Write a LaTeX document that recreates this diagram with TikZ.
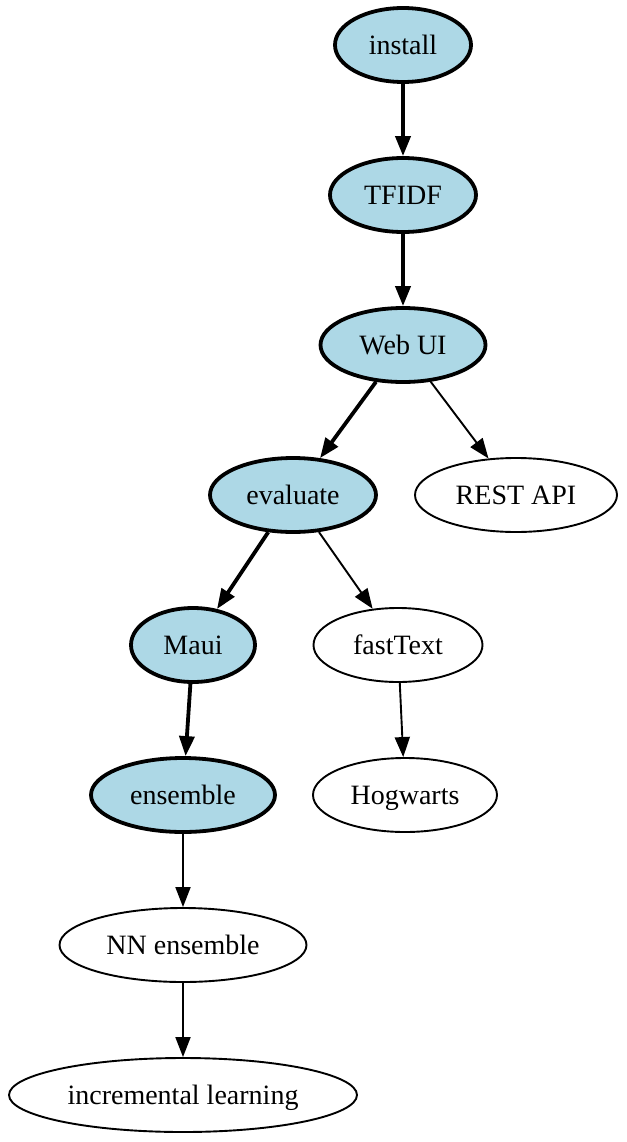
\documentclass[tikz,border=0pt]{standalone}
\usepackage{fontspec}
\setmainfont{Liberation Serif}
\usetikzlibrary{shapes.geometric,arrows.meta}
\definecolor{lblue}{HTML}{ADD8E6}
\tikzset{
  base/.style={ellipse,draw=black,inner sep=0pt,minimum height=74pt,text height=21pt,text depth=2pt,font=\fontsize{28}{34}\selectfont},
  hot/.style={base,fill=lblue,line width=3.8pt},
  cold/.style={base,fill=white,line width=1.9pt},
  hotedge/.style={line width=3.8pt,-{Triangle[length=20pt,width=15pt]}},
  coldedge/.style={line width=1.9pt,-{Triangle[length=20pt,width=15pt]}}
}
\begin{document}
\begin{tikzpicture}[x=1pt,y=-1pt]
\useasboundingbox (0,0) rectangle (626,1142);
\node[hot,minimum width=136pt] (install) at (403,45) {install};
\node[hot,minimum width=146pt] (tfidf) at (403,195) {TFIDF};
\node[hot,minimum width=165pt] (webui) at (403,345) {Web UI};
\node[hot,minimum width=166pt] (evaluate) at (293,495) {evaluate};
\node[cold,minimum width=202pt] (rest) at (516,495) {REST API};
\node[hot,minimum width=124pt] (maui) at (193,645) {Maui};
\node[cold,minimum width=169pt] (fasttext) at (398,645) {fastText};
\node[hot,minimum width=184pt] (ensemble) at (183,795) {ensemble};
\node[cold,minimum width=184pt] (hogwarts) at (405,795) {Hogwarts};
\node[cold,minimum width=247pt] (nn) at (183,945) {NN ensemble};
\node[cold,minimum width=348pt] (incr) at (183,1095) {incremental learning};
\draw[hotedge] (install) -- (tfidf);
\draw[hotedge] (tfidf) -- (webui);
\draw[hotedge] (webui) -- (evaluate);
\draw[coldedge] (webui) -- (rest);
\draw[hotedge] (evaluate) -- (maui);
\draw[coldedge] (evaluate) -- (fasttext);
\draw[hotedge] (maui) -- (ensemble);
\draw[coldedge] (fasttext) -- (hogwarts);
\draw[coldedge] (ensemble) -- (nn);
\draw[coldedge] (nn) -- (incr);
\end{tikzpicture}
\end{document}
